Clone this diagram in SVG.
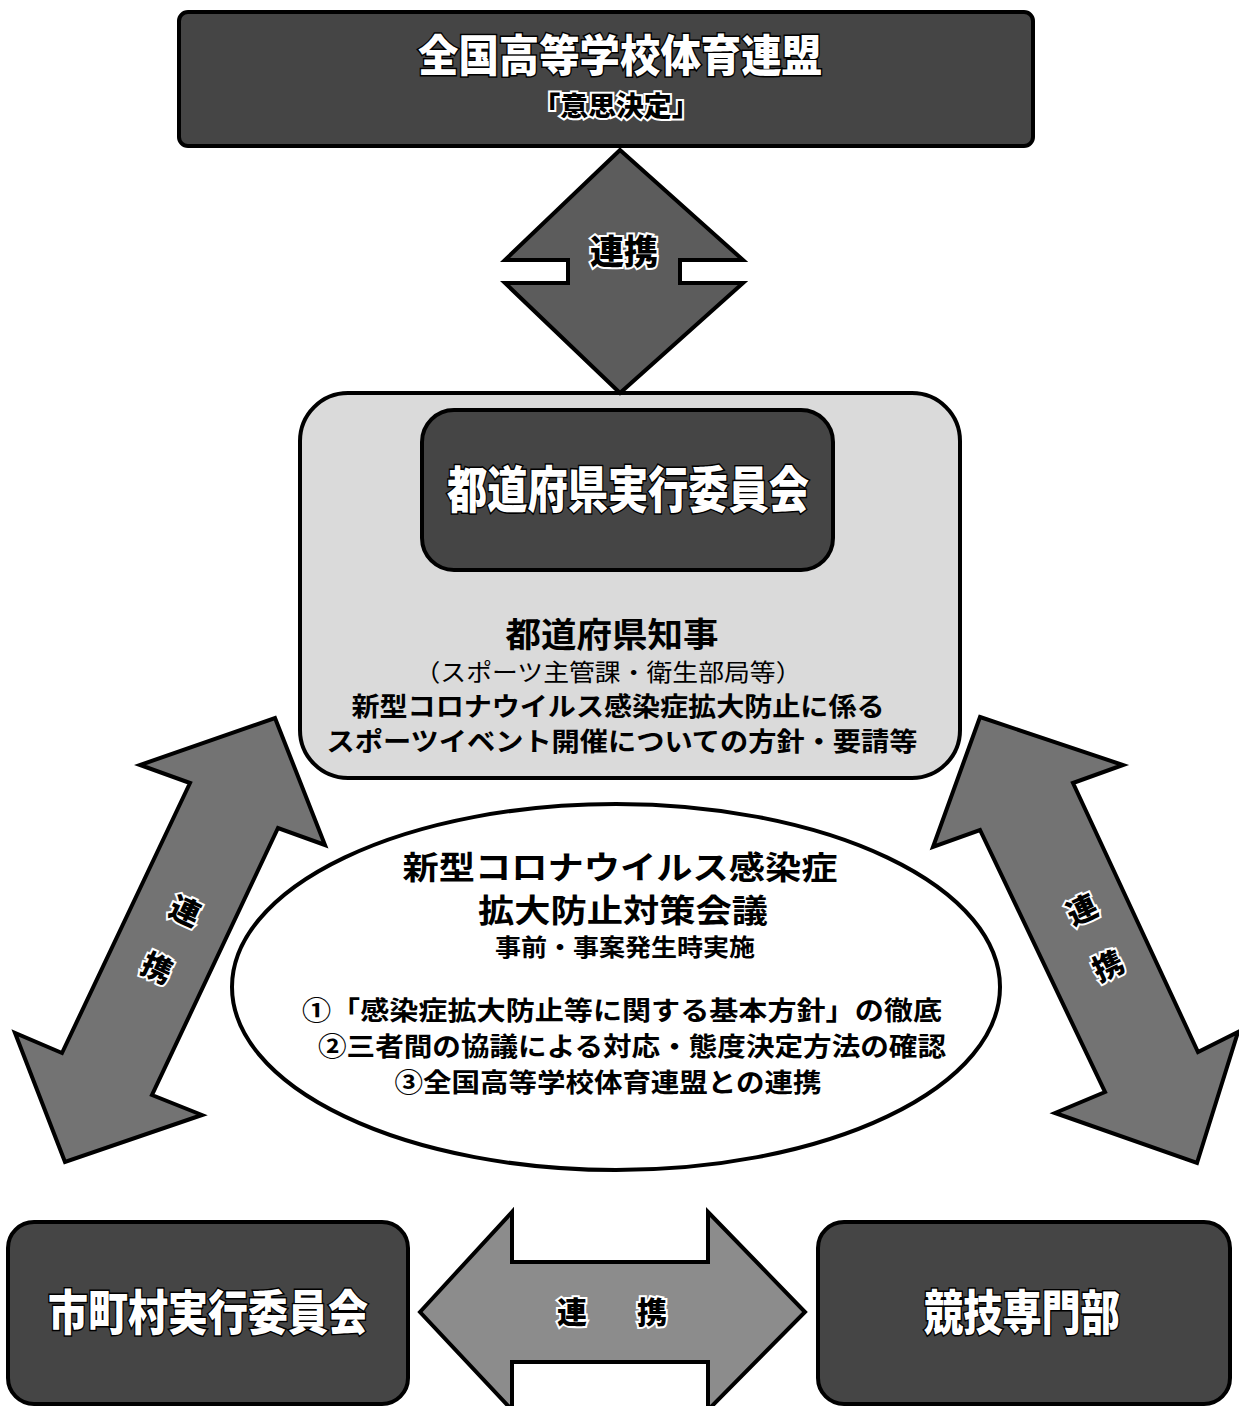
<svg xmlns="http://www.w3.org/2000/svg" width="1239" height="1406" viewBox="0 0 1239 1406">
<style>
text{font-family:"Noto Sans CJK JP","Noto Sans CJK SC",sans-serif;text-anchor:middle}
.box{stroke:#000;stroke-width:4}
.dark{fill:#454545}
.arrow{stroke:#000;stroke-width:4;stroke-linejoin:miter}
.wt{fill:#fff;stroke:#000;stroke-width:3;paint-order:stroke;font-weight:900}
.bt{fill:#000;stroke:#fff;stroke-width:4;paint-order:stroke;font-weight:900}
.bk{fill:#000;font-weight:700}
.rg{fill:#000;font-weight:400}
</style>
<rect width="1239" height="1406" fill="#fff"/>

<g id="n-zenkoku">
<rect class="box dark" x="179" y="12" width="854" height="134" rx="9"/>
<text class="wt" x="620" y="72" font-size="44" textLength="404" lengthAdjust="spacingAndGlyphs">全国高等学校体育連盟</text>
<text class="bt" x="616" y="116" font-size="27" textLength="167" lengthAdjust="spacingAndGlyphs">「意思決定」</text>
</g>

<g id="n-todofuken">
<rect class="box" fill="#dadada" x="300" y="393" width="660" height="385" rx="48"/>
<rect class="box dark" x="422" y="410" width="411" height="160" rx="32"/>
<text class="wt" x="628" y="508" font-size="50" textLength="362" lengthAdjust="spacingAndGlyphs">都道府県実行委員会</text>
<text class="bk" x="612" y="647" font-size="34" textLength="213" lengthAdjust="spacingAndGlyphs">都道府県知事</text>
<text class="rg" x="608" y="681" font-size="24" textLength="387" lengthAdjust="spacingAndGlyphs">（スポーツ主管課・衛生部局等）</text>
<text class="bk" x="618" y="716" font-size="26" textLength="533" lengthAdjust="spacingAndGlyphs">新型コロナウイルス感染症拡大防止に係る</text>
<text class="bk" x="622" y="751" font-size="26" textLength="591" lengthAdjust="spacingAndGlyphs">スポーツイベント開催についての方針・要請等</text>
</g>

<g id="n-taisaku">
<ellipse cx="616" cy="987" rx="384" ry="183" fill="#fff" stroke="#000" stroke-width="4"/>
<text class="bk" x="620" y="879" font-size="32" textLength="435" lengthAdjust="spacingAndGlyphs">新型コロナウイルス感染症</text>
<text class="bk" x="623" y="922" font-size="32" textLength="290" lengthAdjust="spacingAndGlyphs">拡大防止対策会議</text>
<text class="bk" x="625" y="956" font-size="24" textLength="260" lengthAdjust="spacingAndGlyphs">事前・事案発生時実施</text>
<text class="bk" x="622" y="1020" font-size="26" textLength="640" lengthAdjust="spacingAndGlyphs">①「感染症拡大防止等に関する基本方針」の徹底</text>
<text class="bk" x="632" y="1056" font-size="26" textLength="628" lengthAdjust="spacingAndGlyphs">②三者間の協議による対応・態度決定方法の確認</text>
<text class="bk" x="608" y="1092" font-size="26" textLength="427" lengthAdjust="spacingAndGlyphs">③全国高等学校体育連盟との連携</text>
</g>

<g id="n-shichoson">
<rect class="box dark" x="8" y="1222" width="400" height="182" rx="26"/>
<text class="wt" x="208" y="1330" font-size="48" textLength="320" lengthAdjust="spacingAndGlyphs">市町村実行委員会</text>
</g>

<g id="n-kyogi">
<rect class="box dark" x="818" y="1222" width="412" height="182" rx="26"/>
<text class="wt" x="1022" y="1330" font-size="48" textLength="196" lengthAdjust="spacingAndGlyphs">競技専門部</text>
</g>

<g id="connectors">
<g id="c-top">
<polygon class="arrow" fill="#5c5c5c" points="620,150 743,260 680,260 680,283 743,283 620,393 505,283 568,283 568,260 505,260"/>
<text class="bt" x="624" y="264" font-size="34">連携</text>
</g>
<g id="c-left">
<polygon class="arrow" fill="#737373" points="275,718 325,845 278,828 152,1095 202,1115 65,1162 15,1033 62,1053 190,783 140,765"/>
<text class="bt" font-size="30" transform="translate(185,911) rotate(25)" y="11">連</text>
<text class="bt" font-size="30" transform="translate(157,968) rotate(25)" y="11">携</text>
</g>
<g id="c-right">
<polygon class="arrow" fill="#737373" points="980,717 1123,765 1073,783 1198,1052 1238,1032 1197,1163 1055,1113 1105,1092 980,830 933,847"/>
<text class="bt" font-size="30" transform="translate(1082,910) rotate(-25)" y="11">連</text>
<text class="bt" font-size="30" transform="translate(1108,966) rotate(-25)" y="11">携</text>
</g>
<g id="c-bottom">
<polygon class="arrow" fill="#8c8c8c" points="420,1312 512,1212 512,1262 708,1262 708,1212 805,1312 708,1410 708,1362 512,1362 512,1410"/>
<text class="bt" x="572" y="1323" font-size="30">連</text>
<text class="bt" x="652" y="1323" font-size="30">携</text>
</g>
</g>
</svg>
